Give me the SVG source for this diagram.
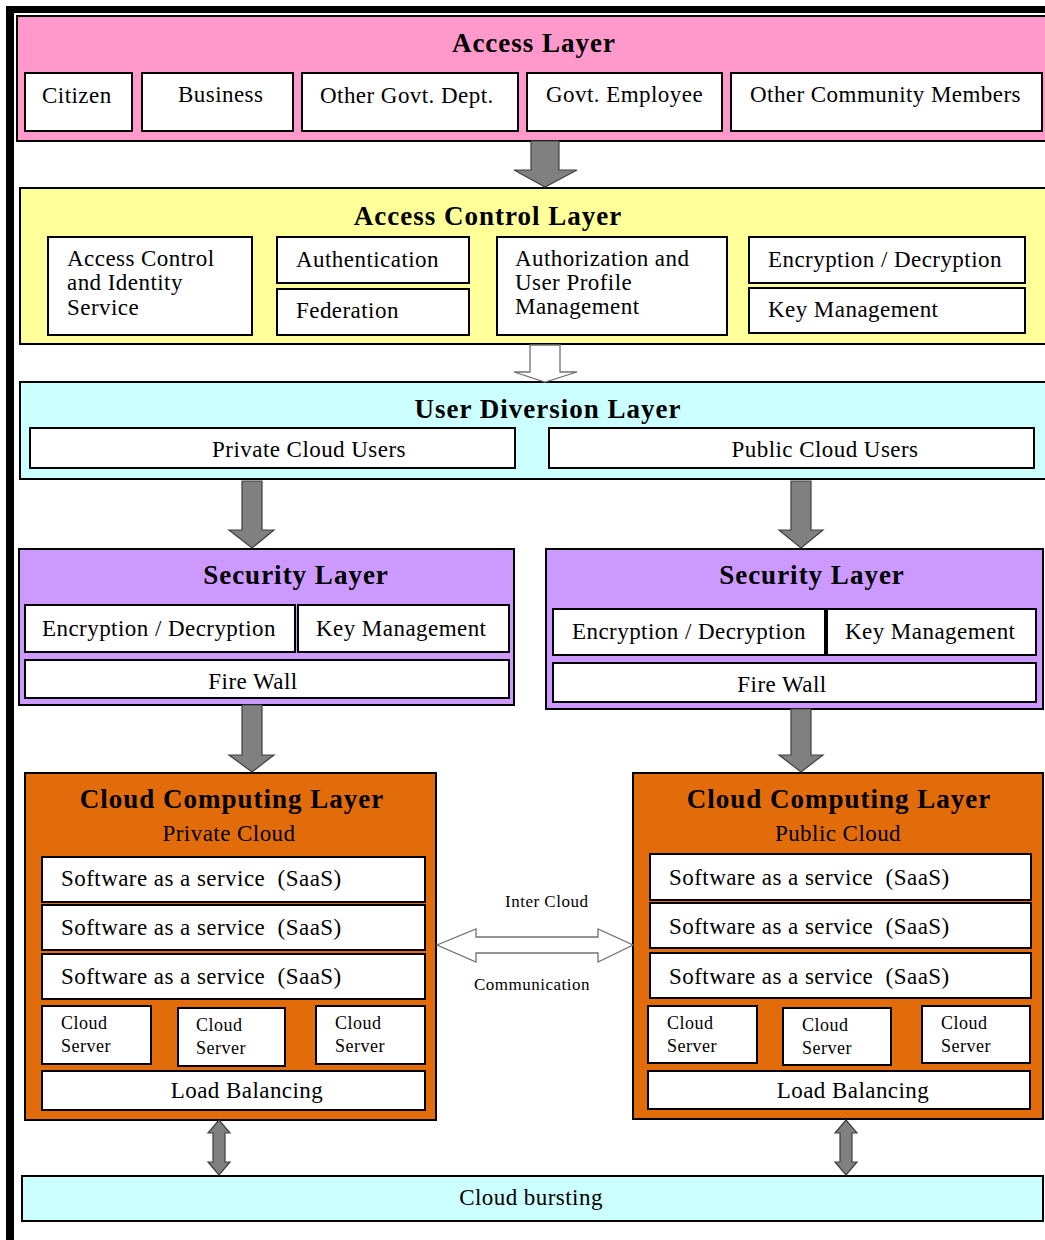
<svg xmlns="http://www.w3.org/2000/svg" width="1045" height="1240" viewBox="0 0 1045 1240">
<style>
text{font-family:"Liberation Serif","Times New Roman",serif;fill:#000;white-space:pre}
.t{font-size:27px;font-weight:bold;text-anchor:middle;letter-spacing:1px}
.n{font-size:23px;letter-spacing:0.45px}
.c{text-anchor:middle}
.s{font-size:18px;letter-spacing:0.5px}
.box{fill:#fff;stroke:#000;stroke-width:2}
.lay{stroke:#000;stroke-width:2}
.arr{fill:#808080;stroke:#404040;stroke-width:1.2}
.harr{fill:#fff;stroke:#707070;stroke-width:1.3}
</style>
<rect x="0" y="0" width="1045" height="1240" fill="#fff"/>
<rect x="6" y="6" width="1039" height="7" fill="#000"/>
<rect x="6" y="6" width="8" height="1234" fill="#000"/>

<g id="access-layer">
<rect class="lay" x="17" y="16" width="1040" height="125" fill="#FF99CC"/>
<text class="t" x="534" y="52">Access Layer</text>
<rect class="box" x="25" y="73" width="107" height="58"/>
<text class="n" x="42" y="103">Citizen</text>
<rect class="box" x="142" y="73" width="151" height="58"/>
<text class="n" x="178" y="102">Business</text>
<rect class="box" x="302" y="73" width="216" height="58"/>
<text class="n" x="320" y="103">Other Govt. Dept.</text>
<rect class="box" x="527" y="73" width="195" height="58"/>
<text class="n" x="546" y="102">Govt. Employee</text>
<rect class="box" x="731" y="73" width="311" height="58"/>
<text class="n" x="750" y="102">Other Community Members</text>
</g>

<g id="access-control-layer">
<rect class="lay" x="20" y="188" width="1040" height="156" fill="#FFFF99"/>
<text class="t" x="488" y="225">Access Control Layer</text>
<rect class="box" x="48" y="237" width="204" height="98"/>
<text class="n" x="67" y="266">Access Control</text>
<text class="n" x="67" y="290">and Identity</text>
<text class="n" x="67" y="315">Service</text>
<rect class="box" x="277" y="237" width="192" height="46"/>
<text class="n" x="296" y="267">Authentication</text>
<rect class="box" x="277" y="289" width="192" height="46"/>
<text class="n" x="296" y="318">Federation</text>
<rect class="box" x="497" y="237" width="230" height="98"/>
<text class="n" x="515" y="266">Authorization and</text>
<text class="n" x="515" y="290">User Profile</text>
<text class="n" x="515" y="314">Management</text>
<rect class="box" x="749" y="237" width="276" height="46"/>
<text class="n" x="768" y="267">Encryption / Decryption</text>
<rect class="box" x="749" y="288" width="276" height="45"/>
<text class="n" x="768" y="317">Key Management</text>
</g>

<g id="user-diversion-layer">
<rect class="lay" x="20" y="382" width="1040" height="97" fill="#CCFFFF"/>
<text class="t" x="548" y="418">User Diversion Layer</text>
<rect class="box" x="30" y="428" width="485" height="40"/>
<text class="n c" x="309" y="457">Private Cloud Users</text>
<rect class="box" x="549" y="428" width="485" height="40"/>
<text class="n c" x="825" y="457">Public Cloud Users</text>
</g>

<g id="security-layer-left">
<rect class="lay" x="19" y="549" width="495" height="156" fill="#CC99FF"/>
<text class="t" x="296" y="584">Security Layer</text>
<rect class="box" x="25" y="605" width="270" height="47"/>
<text class="n" x="42" y="636">Encryption / Decryption</text>
<rect class="box" x="298" y="605" width="211" height="47"/>
<text class="n" x="316" y="636">Key Management</text>
<rect class="box" x="25" y="660" width="484" height="38"/>
<text class="n c" x="253" y="689">Fire Wall</text>
</g>

<g id="security-layer-right">
<rect class="lay" x="546" y="549" width="497" height="160" fill="#CC99FF"/>
<text class="t" x="812" y="584">Security Layer</text>
<rect class="box" x="553" y="609" width="272" height="46"/>
<text class="n" x="572" y="639">Encryption / Decryption</text>
<rect class="box" x="827" y="609" width="209" height="46"/>
<text class="n" x="845" y="639">Key Management</text>
<rect class="box" x="553" y="663" width="483" height="39"/>
<text class="n c" x="782" y="692">Fire Wall</text>
</g>

<g id="cloud-computing-private">
<rect class="lay" x="25" y="773" width="411" height="347" fill="#E36C0A"/>
<text class="t" x="232" y="808">Cloud Computing Layer</text>
<text class="n c" x="229" y="841">Private Cloud</text>
<rect class="box" x="42" y="857" width="383" height="45"/>
<text class="n" x="61" y="886">Software as a service  (SaaS)</text>
<rect class="box" x="42" y="905" width="383" height="45"/>
<text class="n" x="61" y="935">Software as a service  (SaaS)</text>
<rect class="box" x="42" y="954" width="383" height="45"/>
<text class="n" x="61" y="984">Software as a service  (SaaS)</text>
<rect class="box" x="42" y="1006" width="109" height="58"/>
<text class="s" x="61" y="1029">Cloud</text>
<text class="s" x="61" y="1052">Server</text>
<rect class="box" x="178" y="1008" width="107" height="58"/>
<text class="s" x="196" y="1031">Cloud</text>
<text class="s" x="196" y="1054">Server</text>
<rect class="box" x="316" y="1006" width="109" height="58"/>
<text class="s" x="335" y="1029">Cloud</text>
<text class="s" x="335" y="1052">Server</text>
<rect class="box" x="42" y="1071" width="383" height="39"/>
<text class="n c" x="247" y="1098">Load Balancing</text>
</g>

<g id="cloud-computing-public">
<rect class="lay" x="633" y="773" width="410" height="346" fill="#E36C0A"/>
<text class="t" x="839" y="808">Cloud Computing Layer</text>
<text class="n c" x="838" y="841">Public Cloud</text>
<rect class="box" x="650" y="854" width="381" height="46"/>
<text class="n" x="669" y="885">Software as a service  (SaaS)</text>
<rect class="box" x="650" y="903" width="381" height="45"/>
<text class="n" x="669" y="934">Software as a service  (SaaS)</text>
<rect class="box" x="650" y="953" width="381" height="45"/>
<text class="n" x="669" y="984">Software as a service  (SaaS)</text>
<rect class="box" x="648" y="1006" width="109" height="57"/>
<text class="s" x="667" y="1029">Cloud</text>
<text class="s" x="667" y="1052">Server</text>
<rect class="box" x="783" y="1008" width="108" height="57"/>
<text class="s" x="802" y="1031">Cloud</text>
<text class="s" x="802" y="1054">Server</text>
<rect class="box" x="922" y="1006" width="108" height="57"/>
<text class="s" x="941" y="1029">Cloud</text>
<text class="s" x="941" y="1052">Server</text>
<rect class="box" x="648" y="1071" width="382" height="38"/>
<text class="n c" x="853" y="1098">Load Balancing</text>
</g>

<g id="cloud-bursting">
<rect class="lay" x="22" y="1176" width="1021" height="45" fill="#CCFFFF"/>
<text class="n c" x="531" y="1205">Cloud bursting</text>
</g>

<g id="connectors">
<polygon class="arr" points="531,141 559,141 559,170 577,170 545,187 514,170 531,170"/>
<polygon class="harr" points="530,345 560,345 560,372 577,372 545,382 514,372 530,372"/>
<polygon class="arr" points="242,481 262,481 262,530 274,530 252,548 229,530 242,530"/>
<polygon class="arr" points="791,481 811,481 811,530 823,530 801,548 779,530 791,530"/>
<polygon class="arr" points="242,705 262,705 262,755 274,755 252,772 229,755 242,755"/>
<polygon class="arr" points="791,709 811,709 811,755 823,755 801,772 779,755 791,755"/>
<polygon class="harr" points="437,945 476,929 476,937 598,937 598,929 633,945 598,962 598,953 476,953 476,962"/>
<text class="s" x="505" y="907" style="font-size:17px">Inter Cloud</text>
<text class="s" x="474" y="990" style="font-size:17px">Communication</text>
<polygon class="arr" points="219,1120 208,1133 213,1133 213,1162 208,1162 219,1175 230,1162 225,1162 225,1133 230,1133"/>
<polygon class="arr" points="846,1120 835,1133 840,1133 840,1162 835,1162 846,1175 857,1162 852,1162 852,1133 857,1133"/>
</g>
</svg>
